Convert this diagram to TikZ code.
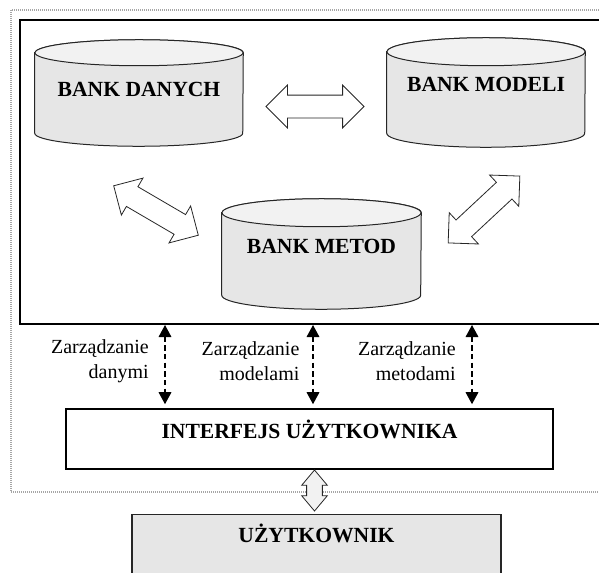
\documentclass[tikz,border=0pt]{standalone}
\usepackage{fontspec}
\setmainfont{Liberation Serif}
\usetikzlibrary{positioning}
\usetikzlibrary{shapes.arrows, arrows.meta}

\definecolor{bankbody}{HTML}{E6E6E6}
\definecolor{banktop}{HTML}{F2F2F2}

% cylinder drawn round a named box: node, x radius, y radius
\newcommand{\banksilo}[3]{%
    \path[bankline, fill=bankbody] ([yshift=-#3]#1.north west) -- ([yshift=#3]#1.south west)
        arc[start angle=180, end angle=360, x radius=#2, y radius=#3] -- ([yshift=-#3]#1.north east)
        arc[start angle=0, end angle=180, x radius=#2, y radius=#3] -- cycle;
    \path[bankline, fill=banktop] ([yshift=-#3]#1.north) ellipse[x radius=#2, y radius=#3];
}

\begin{document}
\begin{tikzpicture}[x=0.75pt, y=-0.75pt,
    bankbox/.style={inner sep=0pt},
    bankline/.style={draw=black!85, line width=0.75pt},
    banklabel/.style={font=\fontsize{16.2}{19}\selectfont\bfseries, inner sep=0pt},
    flow/.style={double arrow, draw=black!85, fill=white, line width=0.6pt, minimum height=73.5pt, inner xsep=0pt, inner ysep=8.25pt, double arrow head extend=7.5pt, double arrow tip angle=90},
    mgmt/.style={dash pattern=on 4pt off 2.5pt, line width=0.9pt, {Triangle[width=9.5pt,length=9pt]}-{Triangle[width=9.5pt,length=9pt]}},
    mgmtlabel/.style={font=\fontsize{15}{18.75}\selectfont, align=right, inner sep=0pt}]
        \useasboundingbox (0,0) rectangle (599,572);
        \clip (0,0) rectangle (599,572);

        % dotted frame round the system
        \draw[gray!70, line width=1.1pt, dash pattern=on 0.75pt off 0.75pt] (11,10) rectangle (640,492);
        \node[draw, line width=1.5pt, anchor=north west, minimum width=465pt, minimum height=228pt, inner sep=0pt] (kernel) at (19,19) {};

        % banks
        \node[bankbox, minimum width=156pt, minimum height=79.5pt] (danych) at (139,93) {};
        \node[bankbox, minimum width=148.5pt, minimum height=81.75pt] (modeli) at (486,92.5) {};
        \node[bankbox, minimum width=149.25pt, minimum height=82.5pt] (metod) at (321.5,254) {};
        \banksilo{danych}{78pt}{9.75pt}
        \banksilo{modeli}{74.25pt}{10.5pt}
        \banksilo{metod}{74.6pt}{10.5pt}
        \node[banklabel] (danychtxt) at (139,89) {BANK DANYCH};
        \node[banklabel] (modelitxt) at (486,84.5) {BANK MODELI};
        \node[banklabel] (metodtxt) at (321.5,246) {BANK METOD};

        \node[flow] (dm) at (315,106.5) {};
        \node[flow, rotate=-30.3] (dt) at (156,210.5) {};
        \node[flow, rotate=43] (mt) at (484,209.5) {};

        % interface and user
        \node[draw, line width=1.2pt, minimum width=365.25pt, inner xsep=0pt, inner ysep=0pt, text height=22pt, text depth=23pt, font=\fontsize{16.2}{19}\selectfont\bfseries] (iface) at (309.5,439) {INTERFEJS UŻYTKOWNIKA};
        \node[draw=black!85, fill=bankbody, line width=0.8pt, anchor=north, minimum width=276.75pt, inner xsep=0pt, inner ysep=0pt, text height=20.8pt, text depth=44pt, font=\fontsize{16.2}{19}\selectfont\bfseries] (user) at (316.5,514) {UŻYTKOWNIK};
        \node[double arrow, rotate=90, draw=black!85, fill=banktop, line width=0.6pt, minimum height=30.75pt, inner xsep=0pt, inner ysep=5.6pt, double arrow head extend=3.75pt, double arrow tip angle=80] (iu) at (314.5,490.5) {};

        % management links
        \coordinate (cd) at (165,361);
        \coordinate (cm) at (313,361);
        \coordinate (cx) at (472,361);
        \draw[mgmt, shorten >=3pt] (kernel.south -| cd) -- (iface.north -| cd);
        \draw[mgmt, shorten >=3pt] (kernel.south -| cm) -- (iface.north -| cm);
        \draw[mgmt, shorten >=3pt] (kernel.south -| cx) -- (iface.north -| cx);
        \node[mgmtlabel, left=12pt of cd] (cdtxt) {Zarządzanie\\danymi};
        \node[mgmtlabel, left=10pt of cm] (cmtxt) {Zarządzanie\\modelami};
        \node[mgmtlabel, left=12pt of cx] (cxtxt) {Zarządzanie\\metodami};
    \end{tikzpicture}
\end{document}
